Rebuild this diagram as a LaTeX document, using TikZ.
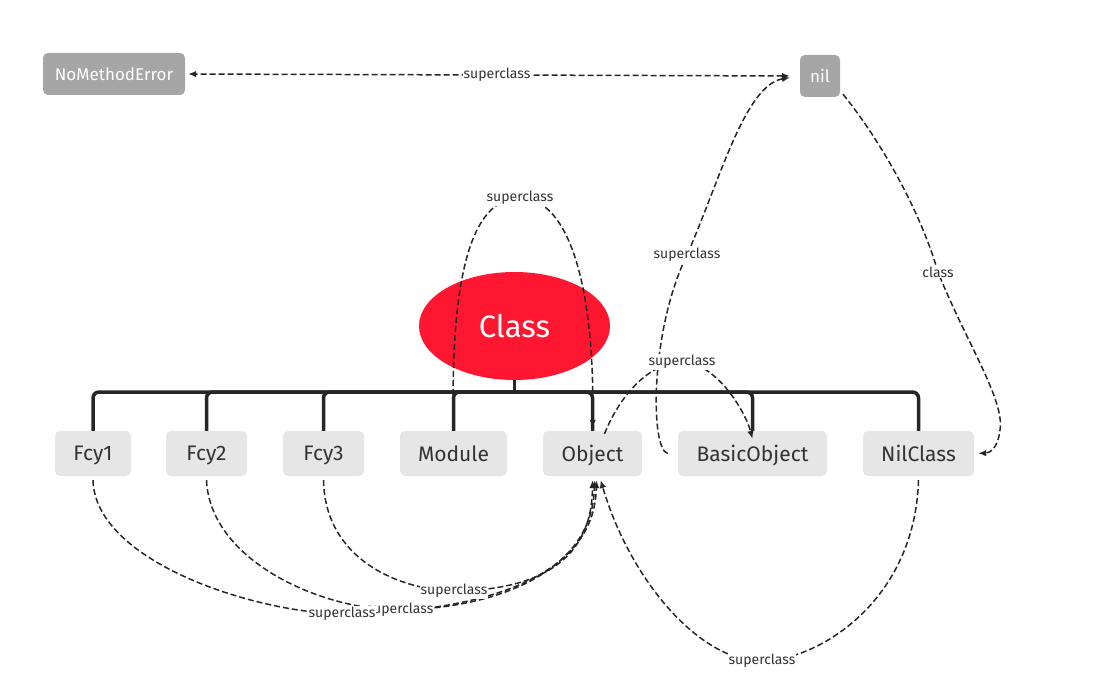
\documentclass[tikz,border=0pt]{standalone}
\usepackage{fontspec}
\setmainfont{Fira Sans}
\usetikzlibrary{shapes.geometric,arrows.meta}
\definecolor{ink}{HTML}{333333}
\definecolor{linec}{HTML}{262626}
\definecolor{boxgray}{HTML}{E6E6E6}
\definecolor{darkgray}{HTML}{A6A6A6}
\definecolor{classred}{HTML}{FF1630}
\begin{document}
\begin{tikzpicture}[x=1pt,y=-1pt,
  cls/.style={rectangle,rounded corners=5pt,fill=boxgray,text=ink,minimum height=45pt,inner sep=0pt,text depth=0pt,font=\fontsize{21}{24}\selectfont},
  top/.style={rectangle,rounded corners=5pt,fill=darkgray,text=white,minimum height=42pt,inner sep=0pt,font=\fontsize{17}{20}\selectfont},
  tree/.style={draw=linec,line width=3.5pt,rounded corners=6pt},
  dl/.style={draw=linec,line width=1.5pt,dash pattern=on 6pt off 3pt,-{Latex[length=8pt,width=6.5pt]}},
  lbl/.style={fill=white,text=ink,inner sep=1pt,font=\fontsize{14}{16}\selectfont}
]
\useasboundingbox (0,0) rectangle (1111,698);
% nodes
\node[top,minimum width=142pt] (nme) at (114,74) {NoMethodError};
\node[top,minimum width=40pt] (nil) at (820,76) {nil};
\node[ellipse,fill=classred,minimum width=191pt,minimum height=108pt,text=white,font=\fontsize{31}{34}\selectfont] (Class) at (514.5,326) {Class};
\node[cls,minimum width=76pt] (Fcy1) at (93,453.5) {Fcy1};
\node[cls,minimum width=81pt] (Fcy2) at (206.5,453.5) {Fcy2};
\node[cls,minimum width=81pt] (Fcy3) at (323.5,453.5) {Fcy3};
\node[cls,minimum width=107pt] (Module) at (453.5,453.5) {Module};
\node[cls,minimum width=99pt] (Object) at (592.5,453.5) {Object};
\node[cls,minimum width=149pt] (BasicObject) at (752.5,453.5) {BasicObject};
\node[cls,minimum width=111pt] (NilClass) at (918.5,453.5) {NilClass};
% label coordinates
\coordinate (lh) at (497,75);
\coordinate (lm) at (520,198);
\coordinate (lb) at (687,255);
\coordinate (lo) at (682,362);
\coordinate (lc) at (938,272);
\coordinate (l1) at (342,614);
\coordinate (l2) at (400,610);
\coordinate (l3) at (454,591);
\coordinate (ln) at (762,661);
\coordinate (hub) at (514.5,392);
% dashed connectors
\draw[dl,{Latex[length=8pt,width=6.5pt]}-{Latex[length=8pt,width=6.5pt]},shorten <=10pt,shorten >=3pt] (nil.west) -- (lh) -- (nme.east);
\draw[dl,shorten >=10pt] ([xshift=-10pt]BasicObject.west) .. controls (650,450) and (650,330) .. (lb) .. controls (720,180) and (745,85) .. (nil.west);
\draw[dl,shorten >=4pt] ([xshift=23pt,yshift=3pt]nil.south) .. controls (880,140) and (920,210) .. (lc) .. controls (965,340) and (1005,400) .. (1000,430) .. controls (998,448) and (990,453) .. (NilClass.east);
\draw[dl] ([xshift=12pt,yshift=-3pt]Object.north) .. controls (620,395) and (650,362) .. (lo) .. controls (715,362) and (745,410) .. ([yshift=-8pt]BasicObject.north);
\draw[dl,shorten >=3pt] (Module.north) .. controls (450,280) and (470,198) .. (lm) .. controls (570,198) and (595,290) .. (Object.north);
\draw[dl,shorten >=4pt] ([yshift=-4pt]Fcy1.south) .. controls (95,560) and (250,612) .. (l1) .. controls (500,612) and (595,570) .. ([xshift=4pt]Object.south);
\draw[dl,shorten >=4pt] ([yshift=-4pt]Fcy2.south) .. controls (210,560) and (320,610) .. (l2) .. controls (500,608) and (593,570) .. ([xshift=2pt]Object.south);
\draw[dl,shorten >=4pt] ([yshift=-4pt]Fcy3.south) .. controls (325,560) and (400,590) .. (l3) .. controls (540,590) and (592,560) .. ([xshift=0pt]Object.south);
\draw[dl,shorten >=4pt] ([yshift=-4pt]NilClass.south) .. controls (915,600) and (820,660) .. (ln) .. controls (700,662) and (630,580) .. ([xshift=7pt]Object.south);
% tree
\foreach \n in {Fcy1,Fcy2,Fcy3,Module,Object,BasicObject,NilClass}{
  \draw[tree] (\n.north) |- (hub);
}
\draw[tree] (Class.south) -- (hub);
% labels
\node[lbl] (Lh) at (lh) {superclass};
\node[lbl] (Lm) at (lm) {superclass};
\node[lbl] (Lb) at (lb) {superclass};
\node[lbl] (Lo) at (lo) {superclass};
\node[lbl] (Lc) at (lc) {class};
\node[lbl] (L3) at (l3) {superclass};
\node[lbl] (L2) at (l2) {superclass};
\node[lbl] (L1) at (l1) {superclass};
\node[lbl] (Ln) at (ln) {superclass};
\end{tikzpicture}
\end{document}
